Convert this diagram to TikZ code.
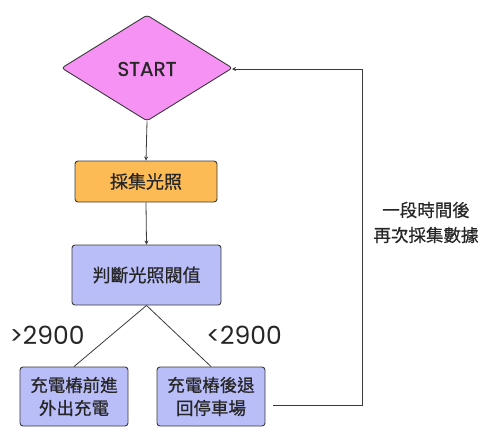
\documentclass[tikz,border=0pt]{standalone}
\usepackage{fontspec}
\setmainfont{Poppins}
\newfontfamily\popm[FakeBold=0.6]{Poppins}
\newfontfamily\cjk[FakeBold=0.7]{Noto Sans CJK TC}
\usetikzlibrary{shapes.geometric,arrows.meta}
\definecolor{dpink}{HTML}{F792F5}
\definecolor{borange}{HTML}{FDBB55}
\definecolor{blav}{HTML}{B9BDF8}
\definecolor{edgec}{HTML}{3A3A3A}
\tikzset{
  box/.style={draw=edgec, line width=0.9pt, rounded corners=3pt, align=center, inner sep=0pt, text=black!85},
  dia/.style={draw=edgec, line width=0.9pt, diamond, fill=dpink, inner sep=0pt, rounded corners=3pt},
  conn/.style={draw=edgec, line width=0.8pt},
  arr/.style={conn, -{Stealth[length=4pt,width=4pt]}},
}
\begin{document}
\begin{tikzpicture}[x=1pt,y=-1pt]
\useasboundingbox (0,0) rectangle (500,445);
\node[dia, minimum width=171pt, minimum height=106pt] (start) at (147,68) {};
\node[font=\popm\fontsize{20}{22}\selectfont, text=black!85] (starttxt) at (147,69) {START};
\node[box, fill=borange, minimum width=142pt, minimum height=41pt, font=\cjk\fontsize{18}{22}\selectfont] (collect) at (146,181.5) {採集光照};
\node[box, fill=blav, minimum width=149pt, minimum height=60pt, font=\cjk\fontsize{18}{22}\selectfont] (judge) at (146.5,275) {判斷光照閥值};
\node[box, fill=blav, minimum width=108pt, minimum height=59pt, font=\cjk\fontsize{17.5}{23}\selectfont] (fwd) at (74,396.5) {充電樁前進\\外出充電};
\node[box, fill=blav, minimum width=108pt, minimum height=59pt, font=\cjk\fontsize{17.5}{23}\selectfont] (back) at (211,396.5) {充電樁後退\\回停車場};
\node[font=\fontsize{25}{27}\selectfont, text=black!85] (gt) at (47,335) {>2900};
\node[font=\fontsize{25}{27}\selectfont, text=black!85] (lt) at (244,335) {<2900};
\node[font=\cjk\fontsize{17.5}{25}\selectfont, align=center, text=black!85] (loop) at (426,222.5) {一段時間後\\再次採集數據};
\coordinate (c1) at (362,405.5);
\coordinate (c2) at (362,69);
\coordinate (s1) at (273,405.5);
\draw[arr] (start.south) -- (collect.north);
\draw[arr] (collect.south) -- (judge.north);
\draw[conn] (judge.south) -- (fwd.north);
\draw[conn] (judge.south) -- (back.north);
\draw[arr] (s1) -- (c1) -- (c2) -- (232,69);
\end{tikzpicture}
\end{document}
